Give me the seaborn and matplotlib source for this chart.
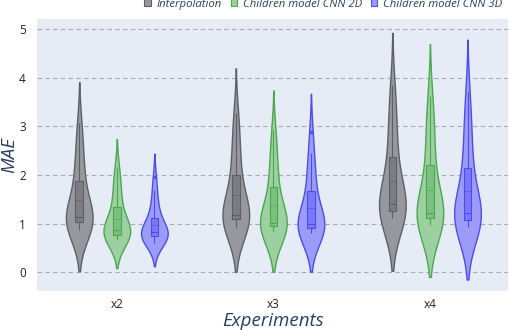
import matplotlib
matplotlib.use("Agg")
import matplotlib.pyplot as plt
from matplotlib.patches import Patch
import seaborn as sns
import pandas as pd

categories = ["x2", "x3", "x4"]
models = ["Interpolation", "Children model CNN 2D", "Children model CNN 3D"]

interp_x2 = [0.87, 0.92, 0.96, 0.99, 1.01, 1.03, 1.06, 1.09, 1.11, 1.13,
             1.14, 1.25, 1.42, 1.62, 1.85, 1.98, 2.20, 2.45, 2.75, 3.06]
cnn2d_x2 = [0.66, 0.70, 0.73, 0.75, 0.76, 0.78, 0.81, 0.84, 0.86, 0.87,
            0.88, 0.93, 1.00, 1.12, 1.30, 1.45, 1.58, 1.75, 1.95, 2.16]
cnn3d_x2 = [0.60, 0.64, 0.68, 0.70, 0.72, 0.74, 0.76, 0.79, 0.81, 0.82,
            0.83, 0.86, 0.90, 0.98, 1.10, 1.20, 1.32, 1.50, 1.68, 1.96]
interp_x3 = [0.93, 0.98, 1.02, 1.05, 1.07, 1.09, 1.11, 1.13, 1.15, 1.16,
             1.18, 1.30, 1.48, 1.70, 1.97, 2.10, 2.35, 2.65, 2.95, 3.27]
cnn2d_x3 = [0.83, 0.86, 0.89, 0.91, 0.93, 0.95, 0.97, 0.99, 1.00, 1.01,
            1.03, 1.10, 1.25, 1.45, 1.72, 1.85, 2.05, 2.30, 2.60, 2.92]
cnn3d_x3 = [0.80, 0.83, 0.85, 0.87, 0.89, 0.91, 0.93, 0.96, 0.98, 0.99,
            1.01, 1.08, 1.20, 1.38, 1.62, 1.78, 1.98, 2.20, 2.45, 2.88]
interp_x4 = [1.11, 1.16, 1.20, 1.22, 1.24, 1.27, 1.30, 1.33, 1.36, 1.39,
             1.41, 1.55, 1.75, 2.00, 2.32, 2.50, 2.80, 3.10, 3.45, 3.84]
cnn2d_x4 = [0.97, 1.01, 1.04, 1.07, 1.09, 1.12, 1.15, 1.18, 1.20, 1.21,
            1.23, 1.35, 1.55, 1.85, 2.15, 2.35, 2.65, 2.95, 3.25, 3.62]
cnn3d_x4 = [0.93, 0.98, 1.01, 1.04, 1.06, 1.09, 1.12, 1.16, 1.19, 1.21,
            1.23, 1.33, 1.50, 1.80, 2.10, 2.30, 2.60, 2.90, 3.25, 3.70]

series = {
    ("x2", models[0]): interp_x2, ("x2", models[1]): cnn2d_x2, ("x2", models[2]): cnn3d_x2,
    ("x3", models[0]): interp_x3, ("x3", models[1]): cnn2d_x3, ("x3", models[2]): cnn3d_x3,
    ("x4", models[0]): interp_x4, ("x4", models[1]): cnn2d_x4, ("x4", models[2]): cnn3d_x4,
}
rows = []
for (cat, mod), vals in series.items():
    for v in vals:
        rows.append({"Experiments": cat, "Model": mod, "MAE": v})
df = pd.DataFrame(rows)

fill_cols = {models[0]: "#96989d", models[1]: "#9dd0a0", models[2]: "#9c9cf8"}
box_cols = {models[0]: "#7b7d82", models[1]: "#7cc080", models[2]: "#7a7af6"}
edge_cols = {models[0]: "#5e6065", models[1]: "#4aa84e", models[2]: "#4c4cf2"}

font = "Open Sans"
text_col = "#2a3f5f"

fig = plt.figure(figsize=(5.1, 3.3), dpi=100)
ax = fig.add_axes([0.0725, 0.118, 0.924, 0.824])
ax.set_facecolor("#e5ecf6")

for m in models:
    sub = df[df["Model"] == m]
    sns.violinplot(data=sub, x="Experiments", y="MAE", hue="Model",
                   order=categories, hue_order=models,
                   palette={k: fill_cols[m] for k in models},
                   linecolor=edge_cols[m], linewidth=1.0,
                   inner=None, cut=2, bw_method=0.64, gridsize=200,
                   density_norm="width", width=0.72, gap=0.29,
                   saturation=1, dodge=True, legend=False, ax=ax, zorder=2)
    sns.boxplot(data=sub, x="Experiments", y="MAE", hue="Model",
                order=categories, hue_order=models,
                palette={k: box_cols[m] for k in models},
                linecolor=edge_cols[m], linewidth=0.8,
                width=0.72, gap=0.8, dodge=True, saturation=1,
                fliersize=1.5, showcaps=False,
                showmeans=True, meanline=True,
                meanprops=dict(color=edge_cols[m], linestyle=(0, (2, 1)), linewidth=0.6),
                legend=False, ax=ax, zorder=3)

ax.set_xlim(-0.51, 2.5)
ax.set_ylim(-0.386, 5.2)
ax.set_yticks([0, 1, 2, 3, 4, 5])
ax.yaxis.grid(True, linestyle=(0, (4, 3)), color="#a9abae", linewidth=0.8)
ax.xaxis.grid(False)
ax.set_axisbelow(True)
for s in ax.spines.values():
    s.set_visible(False)
ax.tick_params(axis="both", length=0, labelsize=8.5, colors="#222222")
ax.tick_params(axis="y", pad=8)
ax.tick_params(axis="x", pad=5)
for lab in ax.get_xticklabels() + ax.get_yticklabels():
    lab.set_fontfamily(font)

ax.set_xlabel("Experiments", fontsize=13.5, style="italic", family=font,
              color=text_col, labelpad=1)
ax.set_ylabel("MAE", fontsize=13.5, style="italic", family=font,
              color=text_col)
ax.yaxis.set_label_coords(-0.04, 0.5)

handles = [Patch(facecolor=fill_cols[m], edgecolor=edge_cols[m], linewidth=0.8, label=m)
           for m in models]
leg = fig.legend(handles=handles, loc="upper right", bbox_to_anchor=(1.005, 1.035),
                 ncol=3, frameon=False, handlelength=0.55, handleheight=0.55,
                 handletextpad=0.5, columnspacing=0.8,
                 prop={"family": font, "style": "italic", "size": 8.2})
for t in leg.get_texts():
    t.set_color(text_col)

fig.savefig("out.png", dpi=100)
